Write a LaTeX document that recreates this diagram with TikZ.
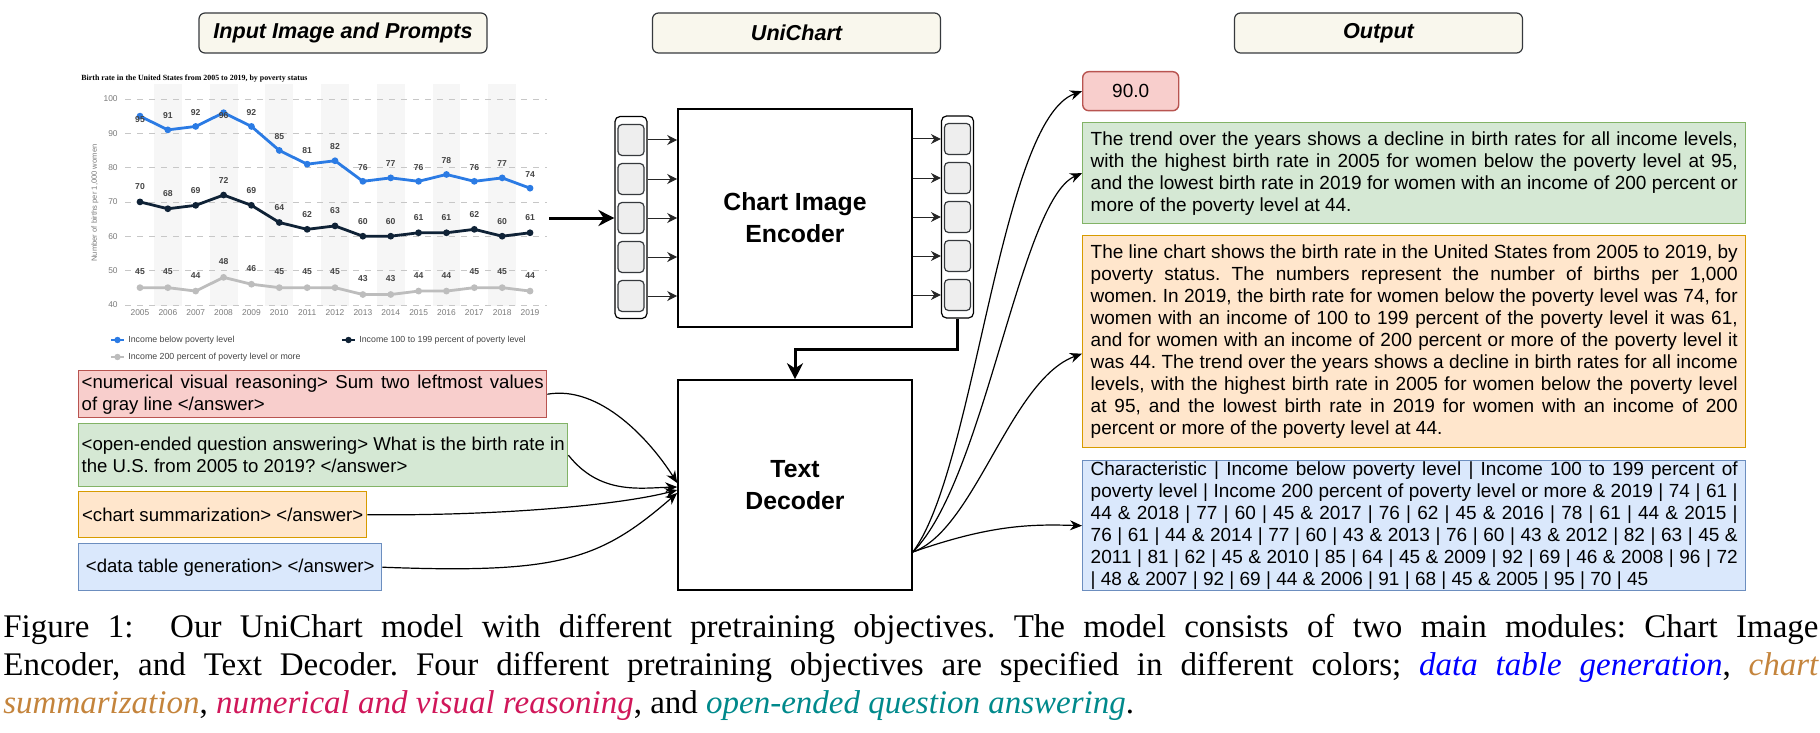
\documentclass[tikz,border=0pt]{standalone}
\usepackage{fontspec}
\setmainfont{Liberation Serif}
\setsansfont{Liberation Sans}
\usetikzlibrary{calc,positioning,arrows.meta}
\frenchspacing

\definecolor{redfill}{HTML}{F8CECC}
\definecolor{redline}{HTML}{B85450}
\definecolor{greenfill}{HTML}{D5E8D4}
\definecolor{greenline}{HTML}{82B366}
\definecolor{orangefill}{HTML}{FFE6CC}
\definecolor{orangeline}{HTML}{D79B00}
\definecolor{bluefill}{HTML}{DAE8FC}
\definecolor{blueline}{HTML}{6C8EBF}
\definecolor{hdfill}{HTML}{F9F7ED}
\definecolor{hdline}{HTML}{36393D}
\definecolor{tokfill}{HTML}{EEEEEE}
\definecolor{chartblue}{HTML}{2B7BE4}
\definecolor{chartdark}{HTML}{0F2236}
\definecolor{chartgray}{HTML}{BDBDBD}
\definecolor{bandgray}{HTML}{F6F6F6}
\definecolor{labgray}{HTML}{444444}
\definecolor{tickgray}{HTML}{7A7A7A}
\definecolor{capblue}{HTML}{0000FF}
\definecolor{caporange}{HTML}{C4843C}
\definecolor{capred}{HTML}{D0175A}
\definecolor{capteal}{HTML}{00898B}

\begin{document}
\begin{tikzpicture}[x=0.5pt, y=-0.5pt]
\tikzset{hdbox/.style={draw=hdline, fill=hdfill, line width=0.6pt, rounded corners=3pt,
  minimum width=144pt, minimum height=20pt, font=\sffamily\bfseries\itshape\fontsize{10.8}{13}\selectfont},
modbox/.style={draw, line width=0.8pt, minimum width=117pt, align=center,
  font=\sffamily\bfseries\fontsize{12.4}{16}\selectfont},
tokcol/.style={draw, fill=white, line width=0.6pt, rounded corners=2.5pt, minimum width=16pt, minimum height=101pt},
tokbox/.style={draw=hdline, fill=tokfill, line width=0.6pt, rounded corners=2pt, minimum width=13pt, minimum height=15.5pt},
prbox/.style={draw, line width=0.7pt, anchor=north west, inner xsep=1.5pt, inner ysep=0pt,
  font=\sffamily\fontsize{9.3}{11}\selectfont},
outbox/.style={draw, line width=0.7pt, anchor=north west, inner xsep=4pt, inner ysep=0pt,
  text width=323.5pt, align=justify, font=\sffamily\fontsize{9.5}{11}\selectfont},
tokarrow/.style={-{Stealth[length=5pt,width=5pt]}, line width=0.5pt, draw=black!85},
thickarrow/.style={-{Stealth[length=8pt,width=8pt]}, line width=1.5pt},
curvearrow/.style={-{Stealth[length=6pt,width=5pt]}, line width=0.6pt},
serline/.style={line width=1.4pt, line join=round, line cap=round},
datlab/.style={font=\sffamily\bfseries\fontsize{4.3}{5}\selectfont, text=labgray, inner sep=0pt},
ticklab/.style={font=\sffamily\fontsize{4.2}{5}\selectfont, text=tickgray, inner sep=0pt},
leglab/.style={font=\sffamily\fontsize{4.4}{5}\selectfont, text=labgray, inner sep=0pt, anchor=west}}

\useasboundingbox (0,0) rectangle (1820,733);

%% Headers
\node (hdin) [hdbox] at (343,33) {Input Image and Prompts};
\node (hduni) [hdbox] at (796.5,33) {UniChart};
\node (hdout) [hdbox] at (1378.5,33) {Output};

%% Chart
\node [font=\rmfamily\bfseries\fontsize{3.95}{5}\selectfont, anchor=west, inner sep=0pt] at (81,79)
  {Birth rate in the United States from 2005 to 2019, by poverty status};
\foreach \i in {1,3,...,13} \fill[bandgray] ({140+27.86*\i-13.93},84) rectangle ({140+27.86*\i+13.93},306);
\foreach \v in {40,50,...,100} {
  \draw[black!22, dashed, line width=0.3pt] (125,{99+(100-\v)*3.43}) -- (547,{99+(100-\v)*3.43});
  \node[ticklab, anchor=east] at (118,{99+(100-\v)*3.43}) {\v};
}
\foreach \yr [count=\i from 0] in {2005,...,2019} \node[ticklab] at ({140+27.86*\i},313) {\yr};
\node[ticklab, rotate=90, font=\sffamily\fontsize{3.8}{5}\selectfont] at (95,203) {Number of births per 1,000 women};

\foreach \s/\c/\dy/\vals in {g/chartgray/-16/{45,45,44,48,46,45,45,45,43,43,44,44,45,45,44},
  d/chartdark/-15/{70,68,69,72,69,64,62,63,60,60,61,61,62,60,61},
  b/chartblue/-14/{95,91,92,96,92,85,81,82,76,77,76,78,76,77,74}} {
  \foreach \v [count=\i from 0] in \vals
    \coordinate (\s\i) at ({140+27.86*\i},{99+(100-\v)*3.43});
  \draw[serline, draw=\c] (\s0) \foreach \i in {1,...,14} {-- (\s\i)};
  \foreach \v [count=\i from 0] in \vals {
    \fill[\c] (\s\i) circle[radius=1.7pt];
    \pgfmathsetmacro\off{\v>94 ? 3 : \dy}
    \node[datlab] at ($(\s\i)+(0,\off)$) {\v};
  }
}

%% Legend
\foreach \lx/\ly/\c/\lab in {111/340/chartblue/Income below poverty level,
  342/340/chartdark/Income 100 to 199 percent of poverty level,
  111/357/chartgray/Income 200 percent of poverty level or more} {
  \draw[\c, line width=1.1pt] (\lx,\ly) -- ++(13,0);
  \fill[\c] ($(\lx,\ly)+(6.5,0)$) circle[radius=1.6pt];
  \node[leglab] at ($(\lx,\ly)+(17,0)$) {\lab};
}
\coordinate (chartout) at (549,218);

%% UniChart
\node (tincol) [tokcol] at (631,217.5) {};
\node (toutcol) [tokcol] at (957.5,217) {};
\foreach \i in {1,...,5} {
  \node (tin\i) [tokbox] at (631,{101+39*\i}) {};
  \node (tout\i) [tokbox] at (957.5,{100+39*\i}) {};
}
\node (enc) [modbox, minimum height=109pt] at (795,218) {Chart Image\\Encoder};
\node (dec) [modbox, minimum height=105pt] at (795,485) {Text\\Decoder};

\draw[thickarrow] (chartout) -- (chartout -| tincol.west);
\foreach \i in {1,...,5} {
  \draw[tokarrow] (tin\i.east -| tincol.east) -- (tin\i.east -| enc.west);
  \draw[tokarrow] (tout\i.west -| enc.east) -- (tout\i.west -| toutcol.west);
}
\draw[thickarrow] (toutcol.south) -- ++(0,31) -| (dec.north);

%% Prompts
\node (prnum) [prbox, fill=redfill, draw=redline, text width=231pt, align=justify, minimum height=23.5pt] at (78,370)
  {<numerical visual reasoning> Sum two leftmost values\linebreak of gray line </answer>};
\node (prqa) [prbox, fill=greenfill, draw=greenline, text width=241.5pt, align=justify, minimum height=31.5pt] at (78,423)
  {<open-ended question answering> What is the birth rate in\linebreak the U.S. from 2005 to 2019? </answer>};
\node (prsum) [prbox, fill=orangefill, draw=orangeline, minimum width=144pt, minimum height=23pt] at (78,491)
  {<chart summarization> </answer>};
\node (prtab) [prbox, fill=bluefill, draw=blueline, minimum width=151.5pt, minimum height=23.5pt] at (78,543)
  {<data table generation> </answer>};

\draw[curvearrow] (prnum.east) .. controls (600,385) and (650,440) .. ([yshift=1pt]dec.west);
\draw[curvearrow] (prqa.east) .. controls (600,495) and (640,488) .. ([yshift=-1pt]dec.west);
\draw[curvearrow] (prsum.east) .. controls (500,516) and (620,505) .. ([yshift=-2.5pt]dec.west);
\draw[curvearrow] (prtab.east) .. controls (560,574) and (600,560) .. ([yshift=-4pt]dec.west);

%% Outputs
\node (outnum) [draw=redline, fill=redfill, line width=0.7pt, rounded corners=3pt, anchor=north west,
  minimum width=48pt, minimum height=19.5pt, font=\sffamily\fontsize{9.5}{11}\selectfont] at (1082,71) {90.0};
\node (outqa) [outbox, fill=greenfill, draw=greenline, minimum height=50.5pt] at (1082,122)
  {The trend over the years shows a decline in birth rates for all income levels,\linebreak
   with the highest birth rate in 2005 for women below the poverty level at 95,\linebreak
   and the lowest birth rate in 2019 for women with an income of 200 percent or\linebreak
   more of the poverty level at 44.};
\node (outsum) [outbox, fill=orangefill, draw=orangeline, minimum height=106pt] at (1082,235)
  {The line chart shows the birth rate in the United States from 2005 to 2019, by\linebreak
   poverty status. The numbers represent the number of births per 1,000\linebreak
   women. In 2019, the birth rate for women below the poverty level was 74, for\linebreak
   women with an income of 100 to 199 percent of the poverty level it was 61,\linebreak
   and for women with an income of 200 percent or more of the poverty level it\linebreak
   was 44. The trend over the years shows a decline in birth rates for all income\linebreak
   levels, with the highest birth rate in 2005 for women below the poverty level\linebreak
   at 95, and the lowest birth rate in 2019 for women with an income of 200\linebreak
   percent or more of the poverty level at 44.};
\node (outtab) [outbox, fill=bluefill, draw=blueline, minimum height=65pt] at (1082,460)
  {Characteristic | Income below poverty level | Income 100 to 199 percent of\linebreak
   poverty level | Income 200 percent of poverty level or more \& 2019 | 74 | 61 |\linebreak
   44 \& 2018 | 77 | 60 | 45 \& 2017 | 76 | 62 | 45 \& 2016 | 78 | 61 | 44 \& 2015 |\linebreak
   76 | 61 | 44 \& 2014 | 77 | 60 | 43 \& 2013 | 76 | 60 | 43 \& 2012 | 82 | 63 | 45 \&\linebreak
   2011 | 81 | 62 | 45 \& 2010 | 85 | 64 | 45 \& 2009 | 92 | 69 | 46 \& 2008 | 96 | 72\linebreak
   | 48 \& 2007 | 92 | 69 | 44 \& 2006 | 91 | 68 | 45 \& 2005 | 95 | 70 | 45};

\coordinate (decout) at ($(dec.east)+(0,67)$);
\draw[curvearrow] (decout) .. controls (975,470) and (1000,120) .. (outnum.west);
\draw[curvearrow] (decout) .. controls (985,480) and (1020,200) .. (outqa.west);
\draw[curvearrow] (decout) .. controls (975,530) and (1010,380) .. ([yshift=-6pt]outsum.west);
\draw[curvearrow] (decout) .. controls (990,525) and (1030,524) .. (outtab.west);

%% Caption
\node (caption) [anchor=north west, inner sep=0pt, text width=907.5pt, align=justify,
  font=\rmfamily\fontsize{16.5}{19}\selectfont] at (3,614)
  {Figure 1:\ \ Our UniChart model with different pretraining objectives. The model consists of two main modules: Chart Image\linebreak
   Encoder, and Text Decoder. Four different pretraining objectives are specified in different colors; {\color{capblue}\itshape data table generation}, {\color{caporange}\itshape chart\linebreak
   summarization}, {\color{capred}\itshape numerical and visual reasoning}, and {\color{capteal}\itshape open-ended question answering}.};

\end{tikzpicture}
\end{document}
